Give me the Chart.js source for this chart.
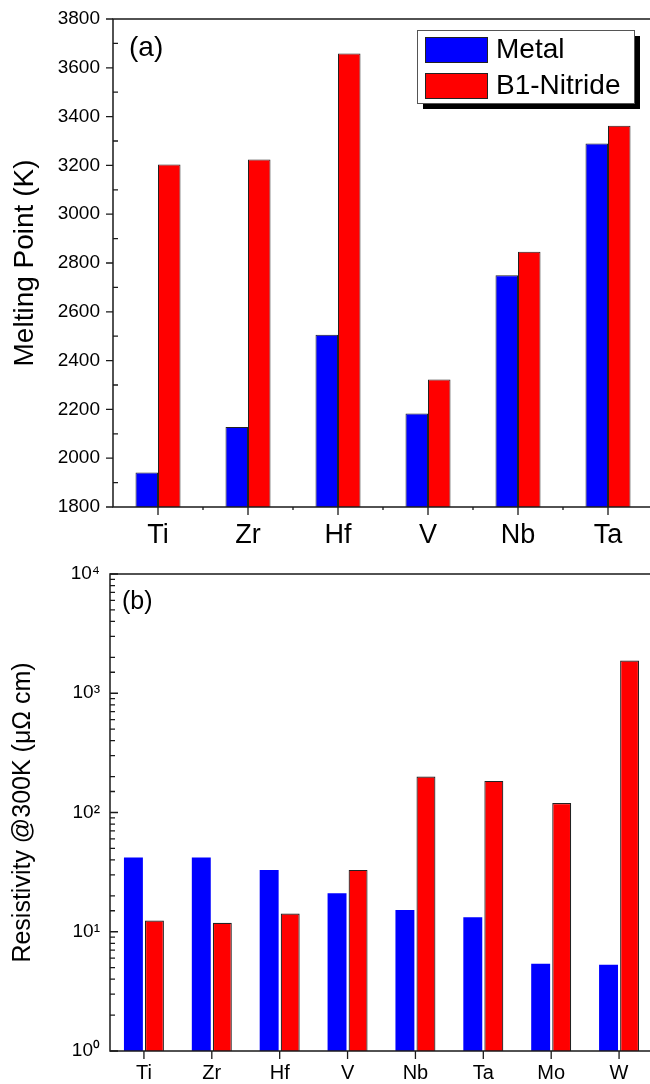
<!DOCTYPE html>
<html>
<head>
<meta charset="utf-8">
<script src="https://cdn.jsdelivr.net/npm/chart.js@4.4.1/dist/chart.umd.min.js"></script>
<style>
html, body { margin: 0; padding: 0; background: #fff; overflow: hidden; width: 650px; height: 1084px; }
#top { position: absolute; left: 0; top: 0; width: 653px; height: 560px; }
#bottom { position: absolute; left: 0; top: 556px; width: 653px; height: 528px; }
</style>
</head>
<body>
<div id="top"><canvas id="meltChart"></canvas></div>
<div id="bottom"><canvas id="resChart"></canvas></div>
<script>
// (a) melting points, K
const meltLabels = ['Ti', 'Zr', 'Hf', 'V', 'Nb', 'Ta'];
const meltMetal = [1941, 2128, 2506, 2183, 2750, 3290];
const meltNitride = [3204, 3224, 3659, 2323, 2846, 3363];

// (b) resistivity at 300K, micro-ohm cm
const resLabels = ['Ti', 'Zr', 'Hf', 'V', 'Nb', 'Ta', 'Mo', 'W'];
const resMetal = [42, 42, 33, 21, 15.2, 13.2, 5.4, 5.3];
const resNitride = [12.4, 11.9, 14.2, 33, 200, 184, 120, 1880];

const seriesNames = ['Metal', 'B1-Nitride'];
const sup = ['\u2070', '\u00b9', '\u00b2', '\u00b3', '\u2074'];

const FONT = '"Liberation Sans", Arial, sans-serif';
const BLUE = '#0000ff';
const RED = '#ff0000';

// axis frame and tick marks, drawn by hand so minor/major ticks can differ
const frameTicks = {
    id: 'frameTicks',
    afterDraw(chart, args, o) {
        const ctx = chart.ctx;
        const a = chart.chartArea;
        const xs = chart.scales.x;
        const ys = chart.scales.y;
        ctx.save();
        ctx.strokeStyle = '#1a1a1a';
        ctx.lineWidth = 1.5;
        ctx.beginPath();
        ctx.moveTo(a.right + 10, a.top);
        ctx.lineTo(a.left, a.top);
        ctx.lineTo(a.left, a.bottom);
        ctx.lineTo(a.right + 10, a.bottom);
        ctx.stroke();

        ctx.lineWidth = 1.3;
        ctx.beginPath();
        // y ticks
        const vals = ys.ticks.map(t => t.value);
        vals.forEach((v, i) => {
            let major = true;
            if (o.log) {
                const l = Math.log10(v);
                major = Math.abs(l - Math.round(l)) < 1e-9;
            }
            const py = ys.getPixelForValue(v);
            const len = major ? o.yMajor : o.yMinor;
            ctx.moveTo(a.left, py);
            ctx.lineTo(a.left + len, py);
            if (!o.log && i < vals.length - 1) {
                const my = ys.getPixelForValue((v + vals[i + 1]) / 2);
                ctx.moveTo(a.left, my);
                ctx.lineTo(a.left + o.yMinor, my);
            }
        });
        // x ticks
        for (let i = 0; i < xs.ticks.length; i++) {
            const px = xs.getPixelForTick(i);
            ctx.moveTo(px, a.bottom);
            ctx.lineTo(px, a.bottom + o.xMajor);
            if (o.xMinor && i < xs.ticks.length - 1) {
                const mx = (px + xs.getPixelForTick(i + 1)) / 2;
                ctx.moveTo(mx, a.bottom);
                ctx.lineTo(mx, a.bottom + o.xMinor);
            }
        }
        ctx.stroke();

        // panel label
        ctx.fillStyle = '#000';
        ctx.font = o.panelFont + 'px ' + FONT;
        ctx.textBaseline = 'middle';
        ctx.fillText(o.panel, a.left + o.panelDx, a.top + o.panelDy);
        ctx.restore();
    }
};

// boxed legend with drop shadow, top panel only
const boxLegend = {
    id: 'boxLegend',
    afterDraw(chart, args, o) {
        if (!o.show) return;
        const ctx = chart.ctx;
        const a = chart.chartArea;
        const bx = a.left + 304, by = a.top + 11, bw = 217, bh = 73;
        ctx.save();
        ctx.fillStyle = '#000';
        ctx.fillRect(bx + 6, by + 6, bw, bh);
        ctx.fillStyle = '#fff';
        ctx.fillRect(bx, by, bw, bh);
        ctx.strokeStyle = '#555';
        ctx.lineWidth = 1;
        ctx.strokeRect(bx + 0.5, by + 0.5, bw, bh);
        const colors = [BLUE, RED];
        ctx.font = '28px ' + FONT;
        ctx.textBaseline = 'middle';
        seriesNames.forEach((name, i) => {
            const sy = by + 7 + i * 36;
            ctx.fillStyle = colors[i];
            ctx.fillRect(bx + 8, sy, 62, 25);
            ctx.strokeStyle = '#222';
            ctx.strokeRect(bx + 8.5, sy + 0.5, 62, 25);
            ctx.fillStyle = '#000';
            ctx.fillText(name, bx + 79, sy + 13);
        });
        ctx.restore();
    }
};

Chart.register(frameTicks, boxLegend);

new Chart(document.getElementById('meltChart'), {
    type: 'bar',
    data: {
        labels: meltLabels,
        datasets: [{
            label: seriesNames[0],
            data: meltMetal,
            backgroundColor: BLUE,
            borderColor: '#222',
            borderWidth: 1,
            barPercentage: 1,
            categoryPercentage: 0.5
        }, {
            label: seriesNames[1],
            data: meltNitride,
            backgroundColor: RED,
            borderColor: '#222',
            borderWidth: 1,
            barPercentage: 1,
            categoryPercentage: 0.5
        }]
    },
    options: {
        responsive: true,
        maintainAspectRatio: false,
        animation: false,
        devicePixelRatio: 1,
        layout: { padding: { top: 19, left: 0, right: 0, bottom: 0 } },
        plugins: {
            legend: { display: false },
            tooltip: { enabled: false },
            frameTicks: { yMajor: -7, yMinor: 5, xMajor: 8, xMinor: 3, log: false, panel: '(a)', panelFont: 28, panelDx: 16, panelDy: 29 },
            boxLegend: { show: true }
        },
        scales: {
            x: {
                grid: { display: false, drawTicks: false },
                border: { display: false },
                ticks: { color: '#000', font: { family: FONT, size: 27 }, padding: 12, maxRotation: 0 },
                afterFit(s) { s.height = 53; }
            },
            y: {
                min: 1800,
                max: 3800,
                grid: { display: false, drawTicks: false },
                border: { display: false },
                ticks: { stepSize: 200, color: '#000', font: { family: FONT, size: 19 }, padding: 13, callback: v => String(v) },
                title: { display: true, text: 'Melting Point (K)', color: '#000', font: { family: FONT, size: 28 }, padding: { top: 8, bottom: 0 } },
                afterFit(s) { s.width = 113; s.paddingTop = 0; s.paddingBottom = 0; }
            }
        }
    }
});

new Chart(document.getElementById('resChart'), {
    type: 'bar',
    data: {
        labels: resLabels,
        datasets: [{
            label: seriesNames[0],
            data: resMetal,
            backgroundColor: BLUE,
            borderWidth: 0,
            barPercentage: 0.9,
            categoryPercentage: 0.62
        }, {
            label: seriesNames[1],
            data: resNitride,
            backgroundColor: RED,
            borderColor: '#222',
            borderWidth: 1.2,
            barPercentage: 0.9,
            categoryPercentage: 0.62
        }]
    },
    options: {
        responsive: true,
        maintainAspectRatio: false,
        animation: false,
        devicePixelRatio: 1,
        layout: { padding: { top: 18, left: 0, right: 0, bottom: 0 } },
        plugins: {
            legend: { display: false },
            tooltip: { enabled: false },
            frameTicks: { yMajor: 8, yMinor: 5, xMajor: 8, xMinor: 0, log: true, panel: '(b)', panelFont: 25, panelDx: 12, panelDy: 28 },
            boxLegend: { show: false }
        },
        scales: {
            x: {
                grid: { display: false, drawTicks: false },
                border: { display: false },
                ticks: { color: '#000', font: { family: FONT, size: 20 }, padding: 10, maxRotation: 0 },
                afterFit(s) { s.height = 33; }
            },
            y: {
                type: 'logarithmic',
                min: 1,
                max: 10000,
                grid: { display: false, drawTicks: false },
                border: { display: false },
                ticks: {
                    autoSkip: false,
                    color: '#000',
                    font: { family: FONT, size: 19 },
                    padding: 10,
                    callback(v) {
                        const l = Math.log10(v);
                        if (Math.abs(l - Math.round(l)) > 1e-9) return '';
                        return '10' + sup[Math.round(l)];
                    }
                },
                title: { display: true, text: 'Resistivity @300K (\u03bc\u03a9 cm)', color: '#000', font: { family: FONT, size: 25 }, padding: { top: 8, bottom: 0 } },
                afterFit(s) { s.width = 110; s.paddingTop = 0; s.paddingBottom = 0; }
            }
        }
    }
});
</script>
</body>
</html>
